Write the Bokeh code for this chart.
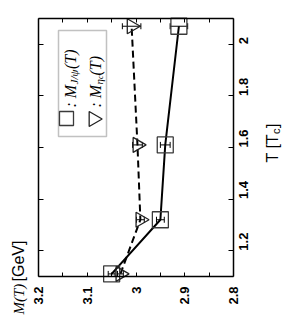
import math
from bokeh.plotting import figure
from bokeh.models import (Range1d, LinearAxis, FixedTicker, Whisker, TeeHead,
                          ColumnDataSource, Label, BoxAnnotation, CustomJSTickFormatter)
from bokeh.embed import file_html
from bokeh.resources import INLINE

# ---- data ----
T_vals = [1.11, 1.32, 1.61, 2.07]
M_jpsi = [3.050, 2.950, 2.940, 2.912]
err_jpsi = [0.007, 0.008, 0.010, 0.018]
M_etac = [3.032, 2.991, 2.997, 3.009]
err_etac = [0.006, 0.008, 0.010, 0.019]

m_ticks = [2.8, 2.9, 3, 3.1, 3.2]
m_minor = [2.85, 2.95, 3.05, 3.15]
t_ticks = [1.2, 1.4, 1.6, 1.8, 2]
M_LO, M_HI = 2.8, 3.2
T_LO, T_HI = 1.1, 2.1

# ---- layout: page pixel positions (Bokeh's page has no body margin) ----
CANVAS_X0, CANVAS_Y0, CANVAS_W, CANVAS_H = 0, 0, 284, 318
FL, FR, FT, FB = 38.0, 233.0, 18.0, 276.0   # plot box (M: 3.2 -> 2.8 left to right, T up)


def to_data(xp, yp):
    m = M_HI + (xp - FL) / (FR - FL) * (M_LO - M_HI)
    t = T_HI + (yp - FT) / (FB - FT) * (T_LO - T_HI)
    return m, t


x0, y_top = to_data(CANVAS_X0, CANVAS_Y0)
x1, y_bot = to_data(CANVAS_X0 + CANVAS_W, CANVAS_Y0 + CANVAS_H)

p = figure(width=CANVAS_W, height=CANVAS_H,
           x_range=Range1d(x0, x1), y_range=Range1d(y_bot, y_top),
           x_axis_location=None, y_axis_location=None,
           output_backend="svg", toolbar_location=None, min_border=0)
p.grid.visible = False
p.outline_line_color = None
p.background_fill_color = "white"
p.border_fill_color = "white"

fmt = CustomJSTickFormatter(code="return String(tick)")
blank = CustomJSTickFormatter(code="return ''")

common = dict(axis_line_color="black", axis_line_width=1.5,
              major_tick_line_color="black", minor_tick_line_color="black",
              major_tick_out=0, minor_tick_out=0,
              major_label_text_font="Liberation Sans", major_label_text_font_size="13px",
              major_label_text_font_style="bold", major_label_text_color="black")

xb = LinearAxis(fixed_location=T_LO, bounds=(M_LO, M_HI),
                ticker=FixedTicker(ticks=m_ticks, minor_ticks=m_minor), formatter=fmt,
                major_label_orientation=math.pi / 2, major_label_standoff=10,
                major_tick_in=4, minor_tick_in=4, **common)
p.add_layout(xb, "below")

xt = LinearAxis(fixed_location=T_HI, bounds=(M_LO, M_HI),
                ticker=FixedTicker(ticks=m_ticks, minor_ticks=m_minor), formatter=blank,
                major_label_standoff=0, major_tick_in=4, minor_tick_in=4, **common)
p.add_layout(xt, "above")

yr = LinearAxis(fixed_location=M_LO, bounds=(T_LO, T_HI),
                ticker=FixedTicker(ticks=t_ticks, minor_ticks=[]), formatter=fmt,
                major_label_orientation=math.pi / 2, major_label_standoff=10,
                major_tick_in=5, minor_tick_in=0, **common)
p.add_layout(yr, "right")

yl = LinearAxis(fixed_location=M_HI, bounds=(T_LO, T_HI),
                ticker=FixedTicker(ticks=t_ticks, minor_ticks=[]), formatter=blank,
                major_label_standoff=0, major_tick_in=5, minor_tick_in=0, **common)
p.add_layout(yl, "left")

src_j = ColumnDataSource(dict(T=T_vals, M=M_jpsi,
                              lo=[m - e for m, e in zip(M_jpsi, err_jpsi)],
                              hi=[m + e for m, e in zip(M_jpsi, err_jpsi)]))
src_e = ColumnDataSource(dict(T=T_vals, M=M_etac,
                              lo=[m - e for m, e in zip(M_etac, err_etac)],
                              hi=[m + e for m, e in zip(M_etac, err_etac)]))

# legend box (below the glyphs)
l_left, l_top = to_data(58, 30)
l_right, l_bot = to_data(106, 136)
p.add_layout(BoxAnnotation(left=l_left, right=l_right, top=l_top, bottom=l_bot,
                           level="underlay", fill_color="white", fill_alpha=1.0,
                           line_color="#333333", line_width=1.5))

p.line("M", "T", source=src_j, line_color="black", line_width=2)
p.line("M", "T", source=src_e, line_color="black", line_width=2, line_dash="7 4")

for src in (src_j, src_e):
    w = Whisker(source=src, base="T", lower="lo", upper="hi", dimension="width",
                line_color="black", line_width=1,
                upper_head=TeeHead(size=6, line_color="black", line_width=1),
                lower_head=TeeHead(size=6, line_color="black", line_width=1))
    p.add_layout(w)

p.scatter("M", "T", source=src_j, marker="square", size=16, fill_color=None,
          line_color="#3a3a3a", line_width=1.3)
p.scatter("M", "T", source=src_e, marker="triangle", angle=-math.pi / 2, size=15,
          fill_color=None, line_color="#222222", line_width=1.3)

# legend glyphs
gm, gt = to_data(66, 118)
p.scatter(x=[gm], y=[gt], marker="square", size=14, fill_color=None,
          line_color="#3a3a3a", line_width=1.3)
gm2, gt2 = to_data(93, 118.5)
p.scatter(x=[gm2], y=[gt2], marker="triangle", angle=-math.pi / 2, size=15,
          fill_color=None, line_color="#222222", line_width=1.3)

SERIF = "Liberation Serif"
SANS = "Liberation Sans"


def rlabel(xp, yp, text, size, style="italic", font=SERIF):
    x, y = to_data(xp, yp)
    p.add_layout(Label(x=x, y=y, text=text, angle=math.pi / 2, text_align="left",
                       text_baseline="alphabetic", text_font=font,
                       text_font_size=f"{size}px", text_font_style=style,
                       text_color="black"))


# legend entry 1:  : M_{J/psi}(T)
rlabel(70, 107, ": M", 16)
rlabel(73, 84, "J/ψ", 11)
rlabel(70, 68.5, "(T)", 16)
# legend entry 2:  : M_{eta_c}(T)
rlabel(95, 107, ": M", 16)
rlabel(98, 84, "η", 11)
rlabel(100, 78.5, "c", 8)
rlabel(95, 75, "(T)", 16)

# axis titles
rlabel(18, 314, "M(T)", 15)
rlabel(18, 281, "[GeV]", 16, style="normal", font=SANS)
rlabel(272, 162, "T [T", 16, style="normal", font=SANS)
rlabel(275, 133.5, "c", 11, style="normal", font=SANS)
rlabel(272, 127.5, "]", 16, style="normal", font=SANS)

html = file_html(p, INLINE)
open("out.html", "w").write(html)
